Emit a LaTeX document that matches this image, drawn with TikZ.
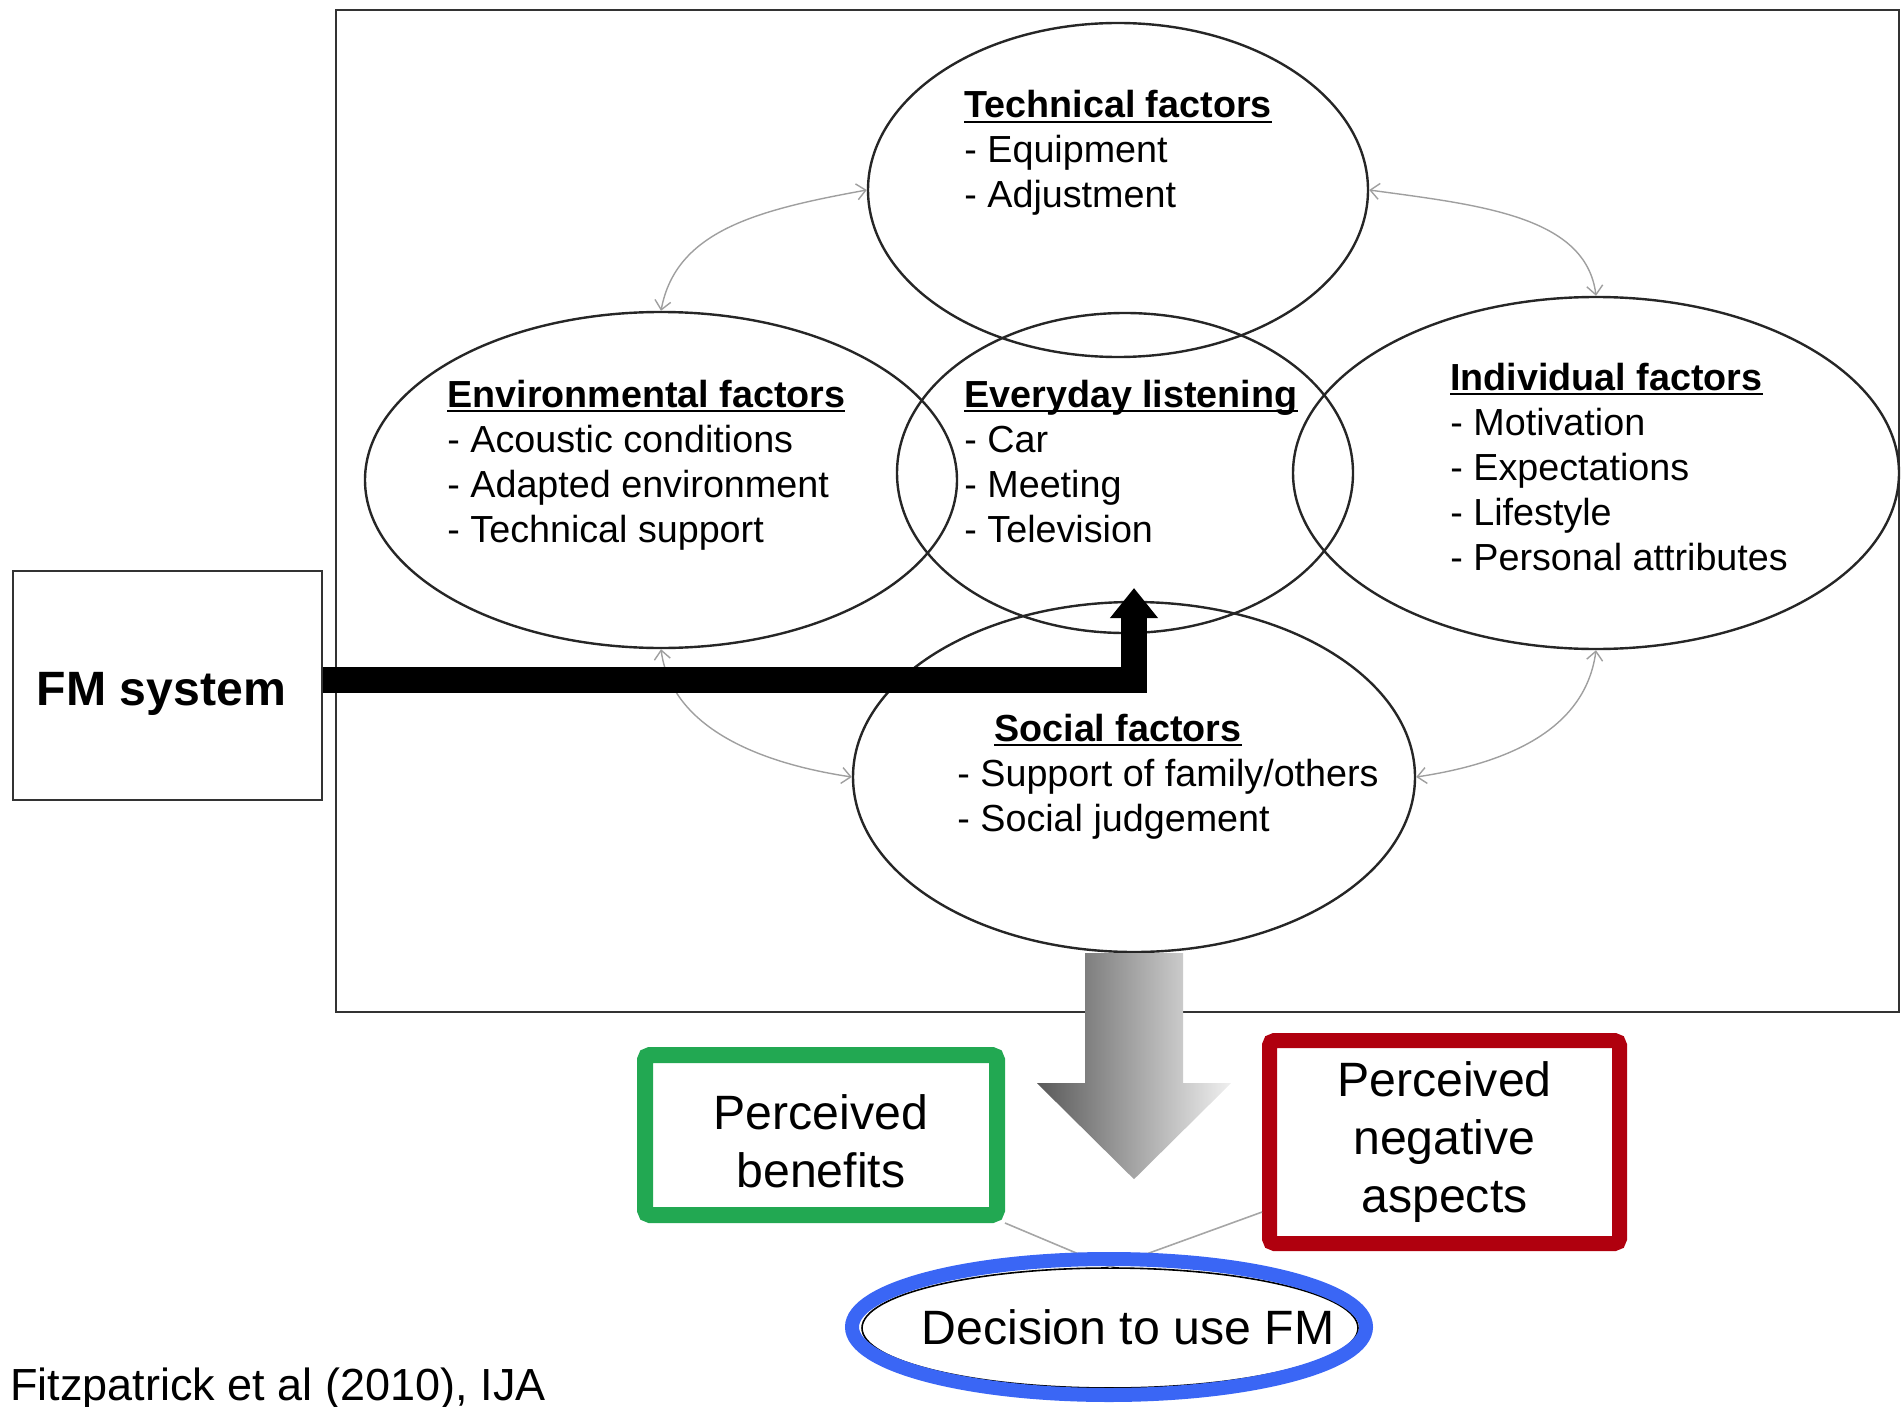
\documentclass[tikz,border=0pt]{standalone}
\usepackage{fontspec}
\setmainfont{Liberation Sans}
\usetikzlibrary{shapes.geometric,arrows.meta}
\definecolor{benefitgreen}{RGB}{34,168,82}
\definecolor{negativered}{RGB}{176,0,14}
\definecolor{decisionblue}{RGB}{58,102,245}
\newsavebox{\headbox}
\newcommand{\fhead}[1]{\sbox{\headbox}{\bfseries #1}\rlap{\rule[-2.4pt]{\wd\headbox}{0.8pt}}\usebox{\headbox}}

\begin{document}
\begin{tikzpicture}[x=0.5pt, y=-0.5pt,
  factor/.style={ellipse, draw=black!85, line width=1.2pt, inner sep=0pt},
  items/.style={anchor=base west, inner sep=0pt, font=\fontsize{18.85pt}{22.5pt}\selectfont},
  link/.style={draw=gray!75, line width=0.7pt, >={Straight Barb[length=4.5pt,width=8pt]}, <->},
  big/.style={font=\fontsize{24.1pt}{29pt}\selectfont, align=center}]
  \useasboundingbox (0,0) rectangle (1901,1407);
  \draw[black!80, line width=1pt] (336,10) rectangle (1899,1012);
  \node[factor, minimum width=250pt, minimum height=167pt] (tech) at (1118,190) {};
  \node[factor, minimum width=296pt, minimum height=168pt] (env) at (661,480) {};
  \node[factor, minimum width=228pt, minimum height=160pt] (everyday) at (1125,473) {};
  \node[factor, minimum width=303pt, minimum height=176pt] (indiv) at (1596,473) {};
  \node[factor, minimum width=281pt, minimum height=175pt] (social) at (1134,777) {};
  \node[items] (techtxt) at (964,118) {\begin{tabular}[t]{@{}l@{}}\fhead{Technical factors}\\- Equipment\\- Adjustment\end{tabular}};
  \node[items] (envtxt) at (447,407) {\begin{tabular}[t]{@{}l@{}}\fhead{Environmental factors}\\- Acoustic conditions\\- Adapted environment\\- Technical support\end{tabular}};
  \node[items] (everydaytxt) at (964,407) {\begin{tabular}[t]{@{}l@{}}\fhead{Everyday listening}\\- Car\\- Meeting\\- Television\end{tabular}};
  \node[items] (indivtxt) at (1450,390) {\begin{tabular}[t]{@{}l@{}}\fhead{Individual factors}\\- Motivation\\- Expectations\\- Lifestyle\\- Personal attributes\end{tabular}};
  \node[items] (socialtxt) at (957,741) {\begin{tabular}[t]{@{}l@{}}\hspace*{18.5pt}\fhead{Social factors}\\- Support of family/others\\- Social judgement\end{tabular}};
  \draw[link] (env.north) .. controls +(15,-80) and +(-110,20) .. (tech.west);
  \draw[link] (tech.east) .. controls +(110,15) and +(-10,-80) .. (indiv.north);
  \draw[link] (env.south) .. controls +(10,75) and +(-100,-15) .. (social.west);
  \draw[link] (indiv.south) .. controls +(-10,75) and +(100,-15) .. (social.east);
  \node[draw=black!80, line width=1pt, minimum width=154.5pt, minimum height=114.5pt,
    label={[font=\bfseries\fontsize{24.1pt}{29pt}\selectfont, xshift=-3pt, yshift=-4pt]center:FM system}] (fm) at (167.5,685.5) {};
  \coordinate (fmtip) at (1134,588);
  \draw[line width=13pt, -{Triangle[length=15pt,width=23pt]}] ([yshift=3pt]fm.east) -| (fmtip);
  \shade[left color=black!65, right color=black!6, shift={(social.south)}] (-49,0) -- (-49,130) -- (-97,130) -- (0,226) -- (97,130) -- (49,130) -- (49,0) -- cycle;
  \node[draw=benefitgreen, line width=8pt, rounded corners=2.5pt, minimum width=176pt, minimum height=80pt,
    label={[big, yshift=-3pt]center:Perceived\\benefits}] (benefits) at (821,1135) {};
  \node[draw=negativered, line width=7.5pt, rounded corners=2.5pt, minimum width=175pt, minimum height=101.5pt, big] (negative) at (1444.5,1142) {Perceived\\negative\\aspects};
  \node[ellipse, draw, line width=0.8pt, minimum width=248pt, minimum height=60pt] (decision) at (1110,1328) {};
  \draw[gray!70, line width=0.8pt] (benefits.south east) -- (decision.north);
  \draw[gray!70, line width=0.8pt] (negative.201) -- (decision.north);
  \node[ellipse, draw=decisionblue, line width=7pt, minimum width=257pt, minimum height=68pt] (ring) at (1109,1327) {};
  \node[font=\fontsize{24.1pt}{29pt}\selectfont] (decisiontxt) at (1128,1327) {Decision to use FM};
  \node[anchor=base west, inner sep=0pt, font=\fontsize{22.5pt}{27pt}\selectfont] (cite) at (10,1400) {Fitzpatrick et al (2010), IJA};
\end{tikzpicture}
\end{document}
